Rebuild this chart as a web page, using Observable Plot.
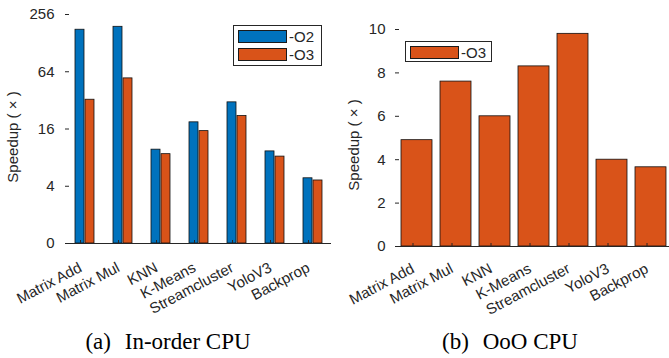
<!DOCTYPE html>
<html><head><meta charset="utf-8">
<script src="https://cdn.jsdelivr.net/npm/d3@7"></script>
<script src="https://cdn.jsdelivr.net/npm/@observablehq/plot@0.6"></script>
<style>
body{margin:0;background:#fff;}
#wrap{position:relative;width:669px;height:358px;overflow:hidden;font-family:"Liberation Sans",Arial,sans-serif;}
.panel{position:absolute;top:0;}
.legend{position:absolute;background:#fff;border:1px solid #262626;box-sizing:border-box;}
.sw{position:absolute;box-sizing:border-box;border:1px solid #1a1a1a;}
.lt{position:absolute;font-size:15px;line-height:15px;color:#262626;}
.cap{position:absolute;font-family:"Liberation Serif","Times New Roman",serif;font-size:23px;line-height:23px;color:#000;white-space:nowrap;transform:translateX(-50%);}
.cap span{margin-right:0.6em;}
</style></head><body><div id="wrap"></div>
<script>
const categories = ["Matrix Add","Matrix Mul","KNN","K-Means","Streamcluster","YoloV3","Backprop"];
const series = ["-O2","-O3"];
const inorderO2 = [177,190,9.7,18.8,30.5,9.3,4.85];
const inorderO3 = [32.5,54.5,8.7,15.2,21.9,8.2,4.6];
const oooO3 = [4.9,7.6,6.0,8.3,9.8,4.0,3.65];
const yTicksLeft = [1,4,16,64,256];
const yTickLabelsLeft = ["0","4","16","64","256"];
const yTicksRight = [0,2,4,6,8,10];
const yLabel = "Speedup ( × )";
const captions = [["(a)","In-order CPU"],["(b)","OoO CPU"]];
const colors = ["#0072BD","#D95319"];

const ink = "#262626";
const font = "Liberation Sans, Arial, sans-serif";
const wrap = document.getElementById("wrap");

const inorder = categories.flatMap((c,i)=>[
  {cat:c, s:series[0], v:inorderO2[i]},
  {cat:c, s:series[1], v:inorderO3[i]}
]);
const ooo = categories.map((c,i)=>({cat:c, s:series[1], v:oooO3[i]}));
const leftLabel = d => {
  let best = 0;
  yTicksLeft.forEach((t,i)=>{ if (Math.abs(Math.log(t)-Math.log(d)) < Math.abs(Math.log(yTicksLeft[best])-Math.log(d))) best = i; });
  return yTickLabelsLeft[best];
};

const left = Plot.plot({
  width:340, height:305, marginLeft:64, marginRight:8, marginTop:14, marginBottom:62,
  style:{fontFamily:font, fontSize:"15px", color:ink, background:"transparent", overflow:"visible"},
  fx:{domain:categories, padding:0},
  x:{domain:series, paddingInner:0.145, paddingOuter:0.8, axis:null},
  y:{type:"log", base:2, domain:[1,256]},
  color:{domain:series, range:colors},
  marks:[
    Plot.barY(inorder,{fx:"cat", x:"s", y1:1, y2:"v", fill:"s", stroke:"#111", strokeWidth:0.8}),
    Plot.ruleY([1],{stroke:ink}),
    Plot.axisFx({anchor:"bottom", label:null, tickSize:-3, tickPadding:26, tickRotate:-28, textAnchor:"end", dx:-4, fontSize:15, lineWidth:Infinity}),
    Plot.axisY({anchor:"left", ticks:yTicksLeft, tickFormat:leftLabel, text:leftLabel, tickSize:-4, tickPadding:15, fontSize:15, label:null}),
    Plot.axisY({anchor:"left", ticks:[], tickSize:0, label:null, line:true}),
    Plot.text([yLabel],{fx:[categories[0]], text:d=>d, frameAnchor:"left", rotate:-90, lineAnchor:"top", textAnchor:"middle", dx:-58, dy:8, fontSize:15, fill:ink})
  ]
});
left.classList.add("panel");
left.style.left = "0px";
wrap.appendChild(left);

const right = Plot.plot({
  width:340, height:305, marginLeft:55, marginRight:7, marginTop:29, marginBottom:59,
  style:{fontFamily:font, fontSize:"15px", color:ink, background:"transparent", overflow:"visible"},
  x:{domain:categories, paddingInner:0.2, paddingOuter:0.1},
  y:{domain:[0,10]},
  marks:[
    Plot.barY(ooo,{x:"cat", y:"v", fill:colors[1], stroke:"#111", strokeWidth:0.8}),
    Plot.ruleY([0],{stroke:ink}),
    Plot.axisX({anchor:"bottom", label:null, tickSize:-3, tickPadding:24, tickRotate:-28, textAnchor:"end", dx:-4, fontSize:15, lineWidth:Infinity}),
    Plot.axisY({anchor:"left", ticks:yTicksRight, tickSize:-4, tickPadding:14, fontSize:15, label:null, line:true}),
    Plot.text([yLabel],{text:d=>d, frameAnchor:"left", rotate:-90, lineAnchor:"top", textAnchor:"middle", dx:-47, dy:7, fontSize:15, fill:ink})
  ]
});
right.classList.add("panel");
right.style.left = "340px";
wrap.appendChild(right);

function legend(x, y, w, h, items){
  const box = document.createElement("div");
  box.className = "legend";
  Object.assign(box.style,{left:x+"px", top:y+"px", width:w+"px", height:h+"px"});
  items.forEach((it,i)=>{
    const sw = document.createElement("div");
    sw.className = "sw";
    Object.assign(sw.style,{left:"4px", top:(4+i*17.5)+"px", width:"49px", height:"13px", background:it.color});
    box.appendChild(sw);
    const t = document.createElement("div");
    t.className = "lt";
    t.textContent = it.label;
    Object.assign(t.style,{left:"55px", top:(3+i*17.5)+"px"});
    box.appendChild(t);
  });
  wrap.appendChild(box);
}
legend(233, 25, 89, 41, series.map((s,i)=>({label:s, color:colors[i]})));
legend(405, 41, 87, 21, [{label:series[1], color:colors[1]}]);

[[168,captions[0]],[510,captions[1]]].forEach(([cx,c])=>{
  const d = document.createElement("div");
  d.className = "cap";
  d.style.left = cx+"px";
  d.style.top = "330px";
  const a = document.createElement("span");
  a.textContent = c[0];
  d.appendChild(a);
  d.appendChild(document.createTextNode(c[1]));
  wrap.appendChild(d);
});
</script></body></html>
